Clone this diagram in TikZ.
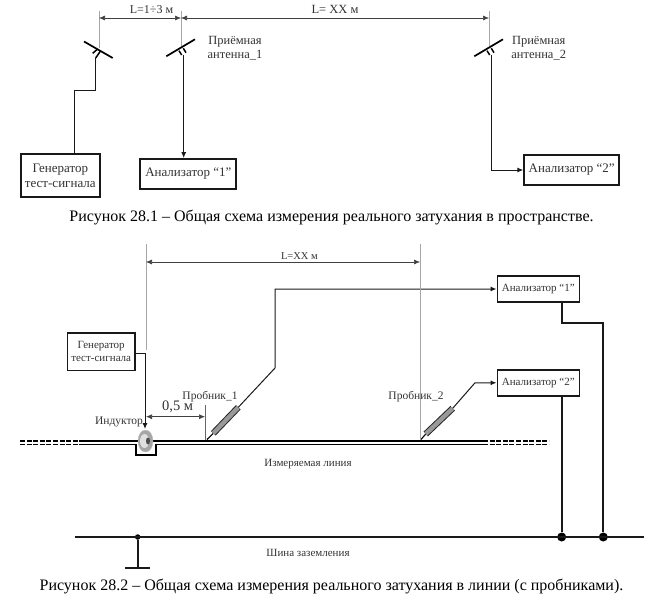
\documentclass[tikz,border=0pt]{standalone}
\usepackage{fontspec}
\setmainfont{Liberation Serif}
\usetikzlibrary{arrows.meta,positioning,shapes.geometric}
\definecolor{inktext}{gray}{0.2}
\begin{document}
\begin{tikzpicture}[
    x=1pt, y=-1pt,
    device/.style={rectangle, draw=black!90, line width=1.8pt, fill=white, inner sep=0pt,
      align=center, text=inktext, font=\fontsize{13}{15}\selectfont},
    devsmall/.style={device, line width=1.6pt, font=\fontsize{11}{13}\selectfont},
    labl/.style={inner sep=0pt, align=center, text=inktext, font=\fontsize{12.5}{14}\selectfont},
    lablsmall/.style={labl, font=\fontsize{10.5}{13}\selectfont},
    capt/.style={inner sep=0pt, text=black, font=\fontsize{16}{18}\selectfont},
    arr/.style={-{Latex[length=6pt,width=5pt]}, line width=1pt, black!90},
    dimen/.style={{Latex[length=6pt,width=5pt]}-{Latex[length=6pt,width=5pt]}, line width=0.6pt, black!75},
    guide/.style={line width=0.7pt, black!35},
    wire/.style={line width=1.1pt, black!90},
    earth/.style={line width=2pt, black!90},
    arm/.style={line width=1.7pt, black},
    rail/.style={line width=1.6pt, black},
    raildash/.style={rail, dash pattern=on 5pt off 1.6pt},
    dot/.style={circle, fill=black, inner sep=0pt, minimum size=#1}
  ]
    \useasboundingbox (0,0) rectangle (666,599);

    % ── Upper scheme: devices ─────────────────────────────────
    \node[device, minimum width=79pt, minimum height=43pt] (gen1) at (60.3,175.5)
      {Генератор\\тест-сигнала};
    \node[device, minimum width=96pt, minimum height=30pt] (an1) at (188.3,174) {Анализатор “1”};
    \node[device, minimum width=95pt, minimum height=30pt] (an2) at (571.7,170) {Анализатор “2”};

    % ── Upper scheme: antennas ────────────────────────────────
    \coordinate (txa) at (95.7,58);
    \coordinate (rxa) at (183.7,55);
    \coordinate (rxb) at (491.7,55);
    \draw[guide] (99,11) -- (99,48);
    \draw[guide] (181,11) -- (181,46);
    \draw[guide] (489,11) -- (489,46);
    \draw[arm] (84,41.5) -- (112.7,58);
    \draw[arm, line width=1.5pt] (92.7,53.3) -- (97.3,49.3);
    \draw[arm, line width=1.5pt] (95.7,58) -- (100.7,50.7);
    \foreach \nam in {rxa,rxb} {
      \draw[arm] ([shift={(-17.4,1.3)}]\nam) -- ([shift={(11.3,-15.7)}]\nam);
      \draw[arm, line width=1.5pt] ([shift={(-4.7,-4.3)}]\nam) -- ([shift={(-2,0)}]\nam);
      \draw[arm, line width=1.5pt] ([shift={(-0.4,-6.7)}]\nam) -- ([shift={(2.3,-2.3)}]\nam);
    }

    % ── Upper scheme: dimensions ──────────────────────────────
    \coordinate (gL) at (99,18);
    \coordinate (aL) at (181,18);
    \coordinate (bL) at (489,18);
    \draw[dimen] (gL) -- node[labl, font=\fontsize{12}{14}\selectfont, pos=0.64, above=4.5pt]{L=1÷3 м} (aL);
    \draw[dimen] (aL) -- node[labl, font=\fontsize{12.5}{14}\selectfont, above=4.5pt]{L= XX м} (bL);

    % ── Upper scheme: connectors ──────────────────────────────
    \draw[wire] (txa) -- (95.7,90.3) -| ([xshift=54.3pt]gen1.north west);
    \draw[arr] (rxa) -- (rxa |- an1.north);
    \draw[arr] (rxb) |- (an2.west);

    \node[labl] (lblrx1) at (235,48) {Приёмная\\антенна\_1};
    \node[labl] (lblrx2) at (538.7,48) {Приёмная\\антенна\_2};
    \node[capt] (cap1) at (331.5,217) {Рисунок 28.1 – Общая схема измерения реального затухания в пространстве.};

    % ── Lower scheme: devices ─────────────────────────────────
    \node[devsmall, minimum width=67.7pt, minimum height=37.3pt] (gen2) at (101.2,351.7)
      {Генератор\\тест-сигнала};
    \node[devsmall, minimum width=82pt, minimum height=26pt] (an3) at (538.3,289) {Анализатор “1”};
    \node[devsmall, minimum width=82pt, minimum height=26pt] (an4) at (538.3,382.8) {Анализатор “2”};

    % ── Measured line ─────────────────────────────────────────
    \draw[raildash] (20,440.7) -- (83,440.7);
    \draw[raildash] (20,444.3) -- (83,444.3);
    \draw[raildash] (483,440.7) -- (549,440.7);
    \draw[raildash] (483,444.3) -- (549,444.3);
    \draw[rail] (83,440.7) -- (483,440.7);
    \draw[rail] (83,444.3) -- (135.7,444.3) -- (135.7,454.7) -- (155.7,454.7) -- (155.7,444.3) -- (483,444.3);

    % ── Inductor ──────────────────────────────────────────────
    \node[ellipse, fill=black!35, draw=black!25, minimum width=15pt, minimum height=22pt, inner sep=0pt] (ind) at (145.5,441) {};
    \node[ellipse, fill=black!12, minimum width=9pt, minimum height=14pt, inner sep=0pt] (indin) at (144.5,441) {};
    \node[ellipse, fill=black!70, minimum width=4pt, minimum height=7pt, inner sep=0pt] (indcore) at (148,441) {};

    % ── Probes ────────────────────────────────────────────────
    \coordinate (tip1) at (207,439.5);
    \coordinate (tip2) at (421,439.5);
    \coordinate (bot1) at (213.3,433.3);
    \coordinate (bot2) at (425.7,434);
    \coordinate (top1) at (238.3,407.3);
    \coordinate (top2) at (452.7,408.3);
    \foreach \n in {1,2} {
      \draw[line width=1.1pt, black] (tip\n) -- (bot\n);
      \draw[line width=6.4pt, black!85] (bot\n) -- (top\n);
      \draw[line width=4.4pt, black!40] (bot\n) -- (top\n);
    }
    \coordinate (bend1) at (275,368);
    \coordinate (bend2) at (475,382.8);
    \draw[arr] (top1) -- (bend1) |- (an3.west);
    \draw[arr] (top2) -- (bend2) -- (an4.west);

    % ── Lower scheme: dimensions ──────────────────────────────
    \coordinate (dL) at (146,262);
    \coordinate (dR) at (420,262);
    \coordinate (dM) at (205,416.7);
    \draw[guide] (146,244) -- (146,350);
    \draw[guide] (420,244) -- (420,440);
    \draw[guide, black!60] (205,405) -- (205,440);
    \draw[dimen] (dL) -- node[lablsmall, pos=0.56, above=2.5pt]{L=XX м} (dR);
    \draw[dimen] (dL |- dM) -- (dM);
    \node[labl, font=\fontsize{14.5}{16}\selectfont] (lblhalf) at (177.7,406.5) {0,5 м};

    % ── Inductor feed ─────────────────────────────────────────
    \draw[arr] ([yshift=-1.7pt]gen2.east) -| (145,429);

    % ── Earth bus ─────────────────────────────────────────────
    \node[dot=9pt] (jn2) at (561.7,537) {};
    \node[dot=9pt] (jn1) at (603.3,537) {};
    \node[dot=5.5pt] (jng) at (137.7,537) {};
    \coordinate (busL) at (75,537);
    \coordinate (busR) at (644,537);
    \coordinate (gndb) at (137.7,567.7);
    \draw[earth] (busL) -- (busR);
    \draw[earth] (jng) -- (gndb);
    \draw[earth] (125,567.7) -- (150,567.7);
    \draw[earth] (an4.south -| jn2) -- (jn2);
    \draw[earth] (an3.south -| jn2) -- (561.7,323) -| (jn1);

    % ── Lower scheme: labels ──────────────────────────────────
    \node[lablsmall, font=\fontsize{11.5}{13}\selectfont] (lblp1) at (210,397) {Пробник\_1};
    \node[lablsmall, font=\fontsize{11.5}{13}\selectfont] (lblp2) at (416,397) {Пробник\_2};
    \node[lablsmall, font=\fontsize{11.5}{13}\selectfont] (lblind) at (119,421.7) {Индуктор};
    \node[lablsmall, font=\fontsize{11}{13}\selectfont] (lblline) at (308,464) {Измеряемая линия};
    \node[lablsmall, font=\fontsize{11}{13}\selectfont] (lblbus) at (308,553) {Шина заземления};
    \node[capt] (cap2) at (331.5,586) {Рисунок 28.2 – Общая схема измерения реального затухания в линии (с пробниками).};
  \end{tikzpicture}
\end{document}
